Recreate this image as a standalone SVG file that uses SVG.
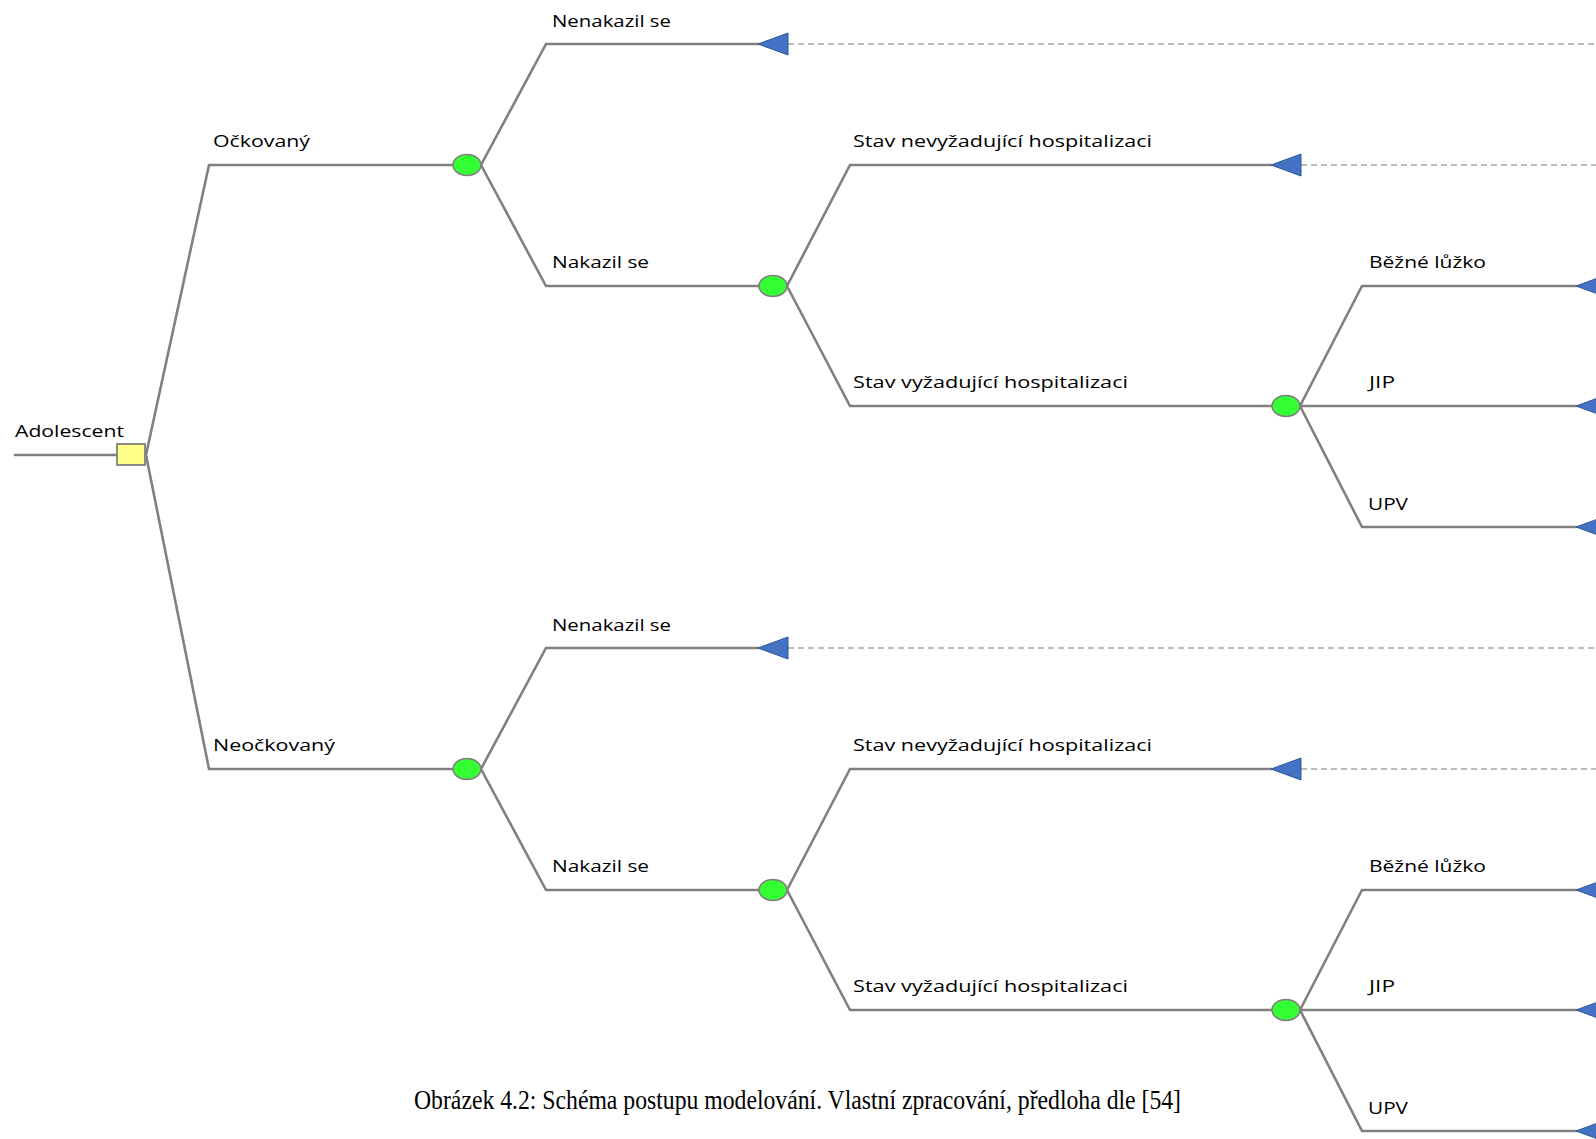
<svg xmlns="http://www.w3.org/2000/svg" width="1596" height="1139" viewBox="0 0 1596 1139">
<style>
.ln{stroke:#808080;stroke-width:2.6;fill:none;stroke-linecap:round}
.ds{stroke:#A6A6A6;stroke-width:1.6;fill:none;stroke-dasharray:6 4}
.ch{fill:#33FF33;stroke:#808080;stroke-width:1.6}
.tr{fill:#4472C4;stroke:#2F5597;stroke-width:1}
.dc{fill:#FFFF88;stroke:#808080;stroke-width:1.8}
.lb{font-family:"Open Sans","DejaVu Sans",sans-serif;font-size:15.5px;fill:#000}
.cap{font-family:"Liberation Serif","Times New Roman",serif;font-size:28px;fill:#000}
</style>
<rect width="1596" height="1139" fill="#fff"/>
<g id="connectors">
<path class="ln" d="M15 455H117"/>
<path class="ln" d="M146 455L209 165H453M146 455L209 769H453"/>
<path class="ln" d="M481 165L546 44H758M481 165L546 286H759"/>
<path class="ln" d="M787 286L850 165H1271M787 286L850 406H1272"/>
<path class="ln" d="M1300 406L1362 286H1576M1300 406H1576M1300 406L1362 527H1576"/>
<path class="ds" d="M788 44H1596M1301 165H1596"/>
<path class="ln" d="M481 769L546 648H758M481 769L546 890H759"/>
<path class="ln" d="M787 890L850 769H1271M787 890L850 1010H1272"/>
<path class="ln" d="M1300 1010L1362 890H1576M1300 1010H1576M1300 1010L1362 1131H1576"/>
<path class="ds" d="M788 648H1596M1301 769H1596"/>
</g>
<g id="labels">
<text class="lb" x="15" y="437" textLength="109" lengthAdjust="spacingAndGlyphs">Adolescent</text>
<text class="lb" x="213" y="147" textLength="97" lengthAdjust="spacingAndGlyphs">Očkovaný</text>
<text class="lb" x="213" y="751" textLength="122" lengthAdjust="spacingAndGlyphs">Neočkovaný</text>
<text class="lb" x="552" y="27" textLength="119" lengthAdjust="spacingAndGlyphs">Nenakazil se</text>
<text class="lb" x="552" y="268" textLength="97" lengthAdjust="spacingAndGlyphs">Nakazil se</text>
<text class="lb" x="853" y="147" textLength="299" lengthAdjust="spacingAndGlyphs">Stav nevyžadující hospitalizaci</text>
<text class="lb" x="853" y="388" textLength="275" lengthAdjust="spacingAndGlyphs">Stav vyžadující hospitalizaci</text>
<text class="lb" x="1369" y="268" textLength="117" lengthAdjust="spacingAndGlyphs">Běžné lůžko</text>
<text class="lb" x="1369" y="388" textLength="26" lengthAdjust="spacingAndGlyphs">JIP</text>
<text class="lb" x="1368" y="510" textLength="40" lengthAdjust="spacingAndGlyphs">UPV</text>
<text class="lb" x="552" y="631" textLength="119" lengthAdjust="spacingAndGlyphs">Nenakazil se</text>
<text class="lb" x="552" y="872" textLength="97" lengthAdjust="spacingAndGlyphs">Nakazil se</text>
<text class="lb" x="853" y="751" textLength="299" lengthAdjust="spacingAndGlyphs">Stav nevyžadující hospitalizaci</text>
<text class="lb" x="853" y="992" textLength="275" lengthAdjust="spacingAndGlyphs">Stav vyžadující hospitalizaci</text>
<text class="lb" x="1369" y="872" textLength="117" lengthAdjust="spacingAndGlyphs">Běžné lůžko</text>
<text class="lb" x="1369" y="992" textLength="26" lengthAdjust="spacingAndGlyphs">JIP</text>
<text class="lb" x="1368" y="1114" textLength="40" lengthAdjust="spacingAndGlyphs">UPV</text>
</g>
<g id="decision-adolescent"><rect class="dc" x="117" y="444" width="28" height="21"/></g>
<g id="chance-ockovany"><ellipse class="ch" cx="467" cy="165" rx="14" ry="10.5"/></g>
<g id="chance-nakazil-1"><ellipse class="ch" cx="773" cy="286" rx="14" ry="10.5"/></g>
<g id="chance-hosp-1"><ellipse class="ch" cx="1286" cy="406" rx="14" ry="10.5"/></g>
<g id="chance-neockovany"><ellipse class="ch" cx="467" cy="769" rx="14" ry="10.5"/></g>
<g id="chance-nakazil-2"><ellipse class="ch" cx="773" cy="890" rx="14" ry="10.5"/></g>
<g id="chance-hosp-2"><ellipse class="ch" cx="1286" cy="1010" rx="14" ry="10.5"/></g>
<g id="term-1"><polygon class="tr" points="758,44 788,33 788,55"/></g>
<g id="term-2"><polygon class="tr" points="1271,165 1301,154 1301,176"/></g>
<g id="term-3"><polygon class="tr" points="1576,286 1606,275 1606,297"/></g>
<g id="term-4"><polygon class="tr" points="1576,406 1606,395 1606,417"/></g>
<g id="term-5"><polygon class="tr" points="1576,527 1606,516 1606,538"/></g>
<g id="term-6"><polygon class="tr" points="758,648 788,637 788,659"/></g>
<g id="term-7"><polygon class="tr" points="1271,769 1301,758 1301,780"/></g>
<g id="term-8"><polygon class="tr" points="1576,890 1606,879 1606,901"/></g>
<g id="term-9"><polygon class="tr" points="1576,1010 1606,999 1606,1021"/></g>
<g id="term-10"><polygon class="tr" points="1576,1131 1606,1120 1606,1142"/></g>
<text class="cap" x="414" y="1109" textLength="767" lengthAdjust="spacingAndGlyphs">Obrázek 4.2: Schéma postupu modelování. Vlastní zpracování, předloha dle [54]</text>
</svg>
